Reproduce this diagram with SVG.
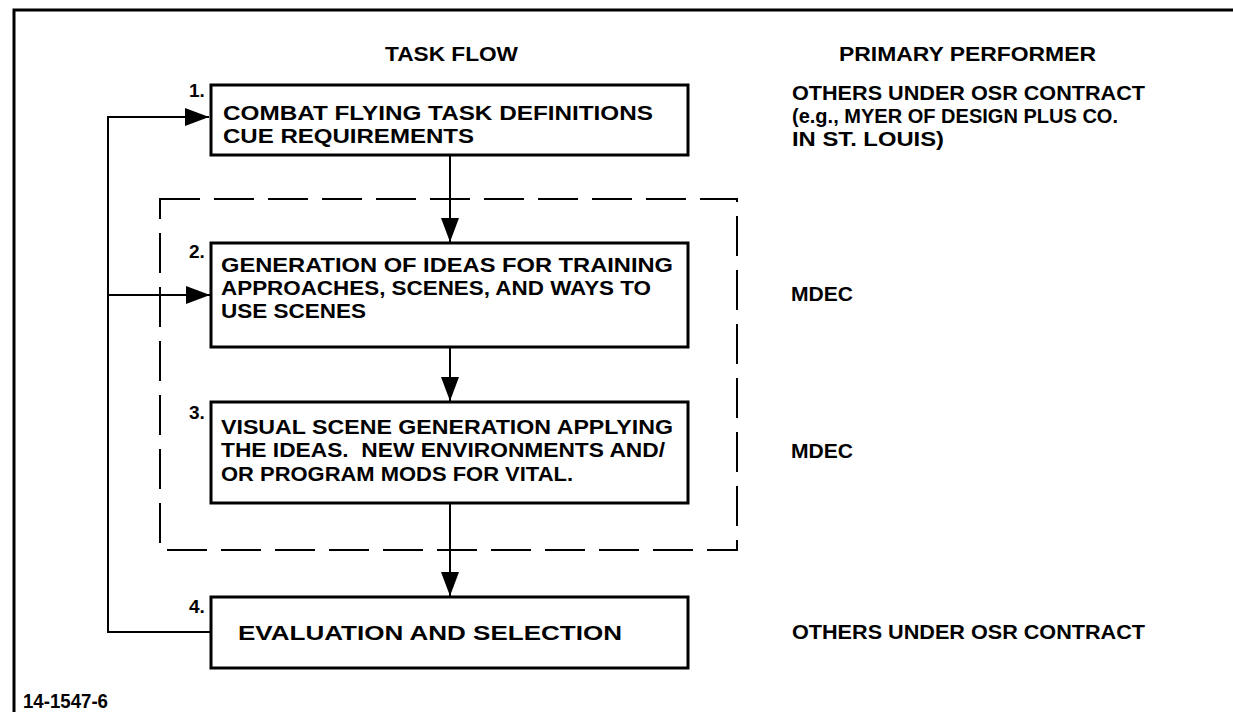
<svg xmlns="http://www.w3.org/2000/svg" width="1233" height="712" viewBox="0 0 1233 712">
<style>
text{font-family:"Liberation Sans",Arial,sans-serif;font-weight:bold;fill:#000;font-size:21px}
.num{font-size:19px}
.box{fill:#fff;stroke:#000;stroke-width:3}
.conn{fill:none;stroke:#000;stroke-width:2}
.dash{fill:none;stroke:#000;stroke-width:2;stroke-dasharray:40 14}
.frame{fill:none;stroke:#000;stroke-width:3}
</style>
<defs>
<marker id="arr" viewBox="0 0 24 18" refX="24" refY="9" markerWidth="24" markerHeight="18" markerUnits="userSpaceOnUse" orient="auto">
<path d="M0,0 L24,9 L0,18 Z" fill="#000"/>
</marker>
</defs>
<rect width="1233" height="712" fill="#fff"/>
<path class="frame" d="M14,712 V10 H1233"/>
<g id="headers">
<text x="385" y="61" textLength="133" lengthAdjust="spacingAndGlyphs">TASK FLOW</text>
<text x="839" y="61" textLength="257" lengthAdjust="spacingAndGlyphs">PRIMARY PERFORMER</text>
</g>
<g id="group-mdec">
<rect class="dash" x="160" y="199" width="577" height="351"/>
</g>
<g id="connectors">
<path class="conn" d="M211,632 H108 V117 H209" marker-end="url(#arr)"/>
<path class="conn" d="M108,295 H210" marker-end="url(#arr)"/>
<path class="conn" d="M450,155 V242" marker-end="url(#arr)"/>
<path class="conn" d="M450,347 V401" marker-end="url(#arr)"/>
<path class="conn" d="M450,503 V596" marker-end="url(#arr)"/>
</g>
<g id="node1">
<rect class="box" x="211" y="85" width="477" height="70"/>
<text class="num" x="189" y="97">1.</text>
<text x="223" y="120" textLength="430" lengthAdjust="spacingAndGlyphs">COMBAT FLYING TASK DEFINITIONS</text>
<text x="223" y="143" textLength="251" lengthAdjust="spacingAndGlyphs">CUE REQUIREMENTS</text>
</g>
<g id="node2">
<rect class="box" x="211" y="243" width="477" height="104"/>
<text class="num" x="189" y="258">2.</text>
<text x="221" y="272" textLength="452" lengthAdjust="spacingAndGlyphs">GENERATION OF IDEAS FOR TRAINING</text>
<text x="221" y="295" textLength="430" lengthAdjust="spacingAndGlyphs">APPROACHES, SCENES, AND WAYS TO</text>
<text x="221" y="318" textLength="145" lengthAdjust="spacingAndGlyphs">USE SCENES</text>
</g>
<g id="node3">
<rect class="box" x="211" y="402" width="477" height="101"/>
<text class="num" x="189" y="419">3.</text>
<text x="221" y="434" textLength="452" lengthAdjust="spacingAndGlyphs">VISUAL SCENE GENERATION APPLYING</text>
<text x="221" y="457" textLength="444" lengthAdjust="spacingAndGlyphs" style="white-space:pre">THE IDEAS.  NEW ENVIRONMENTS AND/</text>
<text x="221" y="481" textLength="352" lengthAdjust="spacingAndGlyphs">OR PROGRAM MODS FOR VITAL.</text>
</g>
<g id="node4">
<rect class="box" x="211" y="597" width="477" height="71"/>
<text class="num" x="189" y="613">4.</text>
<text x="238" y="640" textLength="384" lengthAdjust="spacingAndGlyphs">EVALUATION AND SELECTION</text>
</g>
<g id="performers">
<text x="792" y="100" textLength="353" lengthAdjust="spacingAndGlyphs">OTHERS UNDER OSR CONTRACT</text>
<text x="792" y="123" textLength="326" lengthAdjust="spacingAndGlyphs">(e.g., MYER OF DESIGN PLUS CO.</text>
<text x="792" y="146" textLength="152" lengthAdjust="spacingAndGlyphs">IN ST. LOUIS)</text>
<text x="791" y="301" textLength="62" lengthAdjust="spacingAndGlyphs">MDEC</text>
<text x="791" y="458" textLength="62" lengthAdjust="spacingAndGlyphs">MDEC</text>
<text x="792" y="639" textLength="353" lengthAdjust="spacingAndGlyphs">OTHERS UNDER OSR CONTRACT</text>
</g>
<text x="23" y="708" font-size="16" textLength="85" lengthAdjust="spacingAndGlyphs">14-1547-6</text>
</svg>
